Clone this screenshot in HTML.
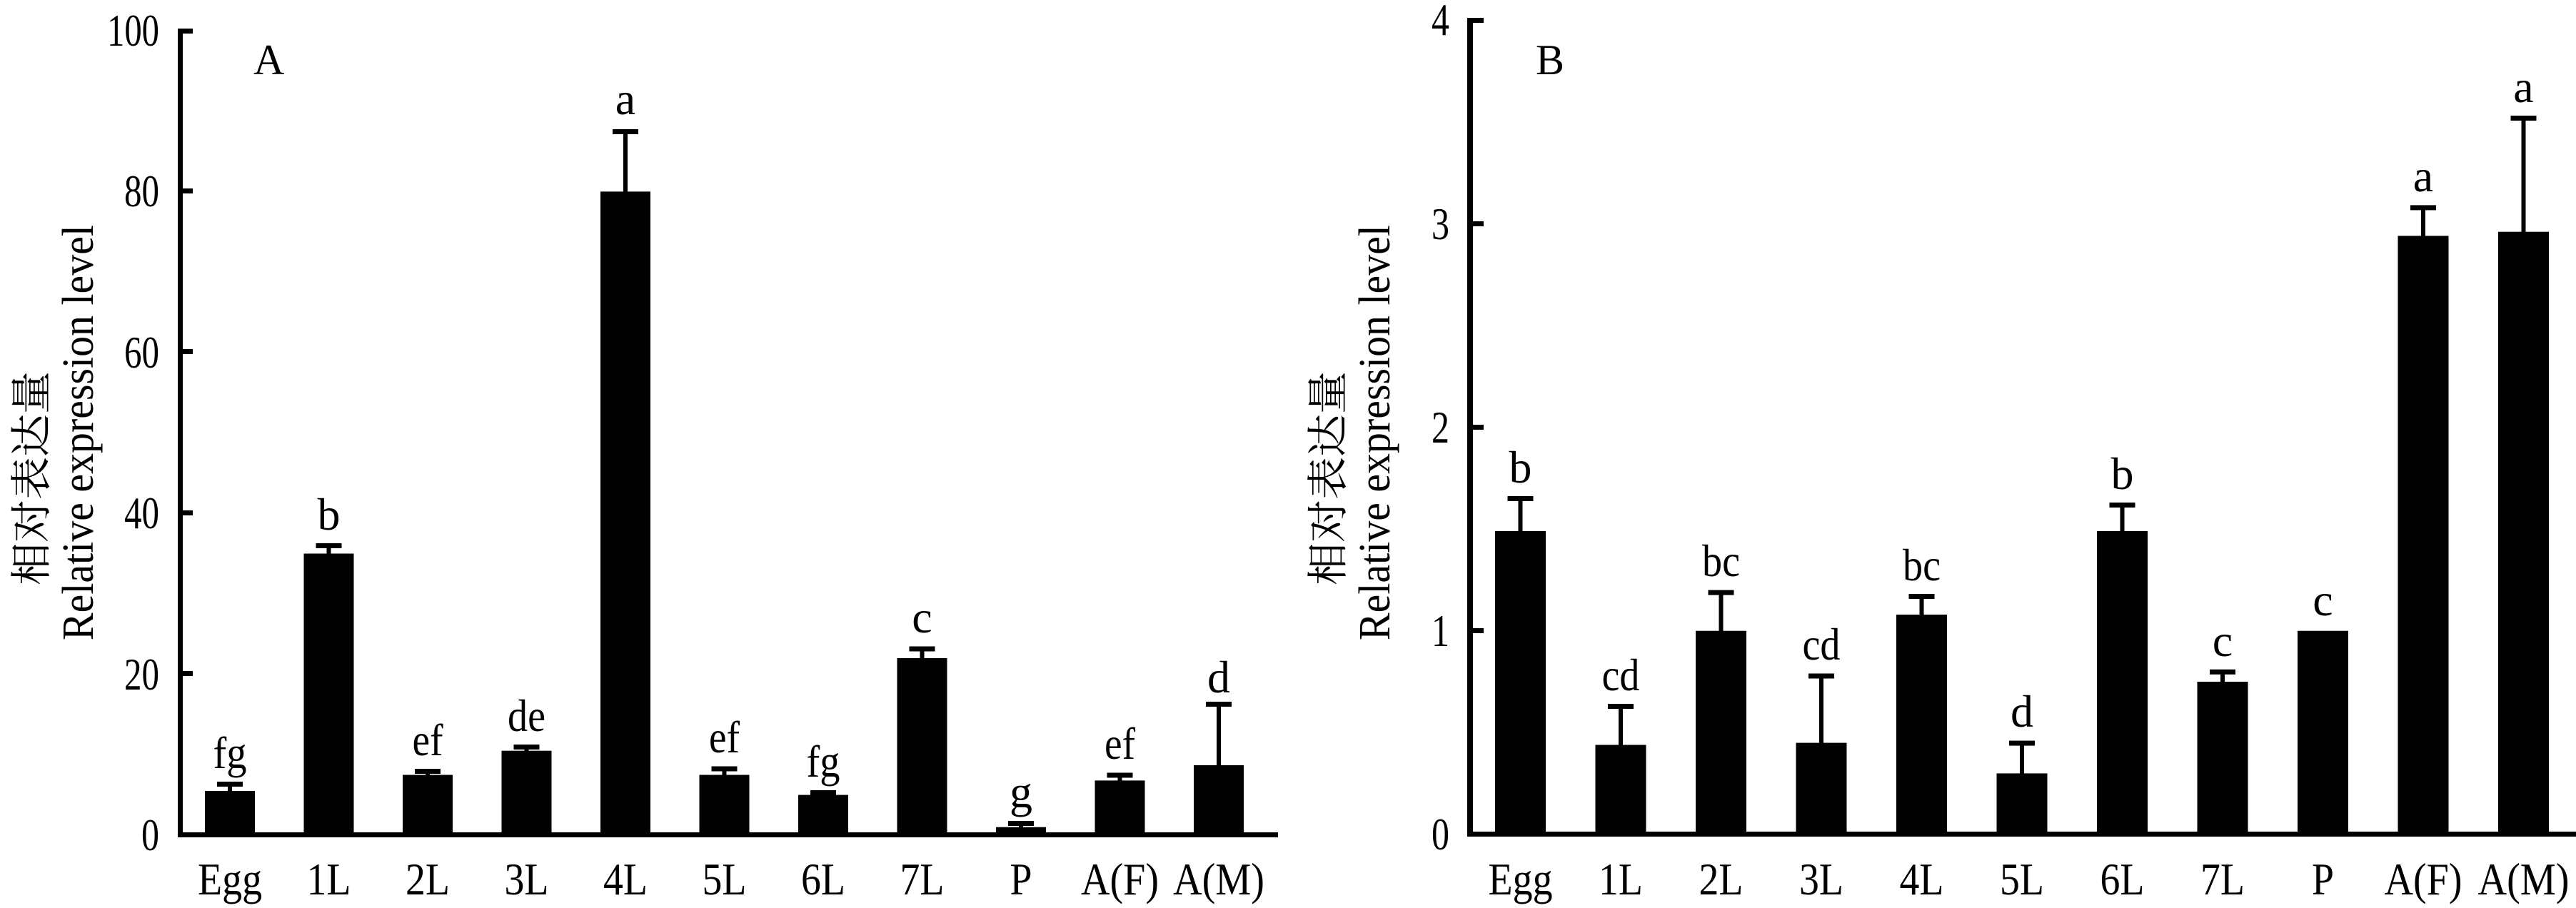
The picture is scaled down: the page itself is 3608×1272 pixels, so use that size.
<!DOCTYPE html>
<html><head><meta charset="utf-8"><style>
html,body{margin:0;padding:0;background:#fff;}
svg{display:block;}
text{font-family:"Liberation Serif","Noto Serif CJK SC",serif;fill:#000;}
</style></head><body>
<svg width="3608" height="1272" viewBox="0 0 3608 1272" xmlns="http://www.w3.org/2000/svg">
<!-- Chart A -->
<g>
<rect x="249" y="40" width="7" height="1133"/>
<rect x="249" y="1166" width="1541" height="7"/>
<g>
<rect x="256" y="40" width="14" height="7"/>
<rect x="256" y="264" width="14" height="7"/>
<rect x="256" y="489" width="14" height="7"/>
<rect x="256" y="715" width="14" height="7"/>
<rect x="256" y="940" width="14" height="7"/>
</g>
<g font-size="64" text-anchor="end">
<text x="223" y="1191" textLength="25" lengthAdjust="spacingAndGlyphs">0</text>
<text x="223" y="966" textLength="49" lengthAdjust="spacingAndGlyphs">20</text>
<text x="223" y="740" textLength="49" lengthAdjust="spacingAndGlyphs">40</text>
<text x="223" y="515" textLength="49" lengthAdjust="spacingAndGlyphs">60</text>
<text x="223" y="289" textLength="49" lengthAdjust="spacingAndGlyphs">80</text>
<text x="223" y="64" textLength="73" lengthAdjust="spacingAndGlyphs">100</text>
</g>
<text x="355" y="104" font-size="60">A</text>
<text transform="translate(64,670) rotate(-90)" font-size="58" text-anchor="middle" textLength="300" lengthAdjust="spacingAndGlyphs" style="font-family:'Noto Serif CJK SC','Noto Sans CJK SC',serif">相对表达量</text>
<text transform="translate(130,606) rotate(-90)" font-size="62" text-anchor="middle" textLength="582" lengthAdjust="spacingAndGlyphs">Relative expression level</text>
<g>
<rect x="287" y="1108" width="70" height="62"/><rect x="319" y="1098" width="6" height="12"/><rect x="304" y="1095" width="36" height="7"/>
<rect x="425.5" y="775.5" width="70" height="395"/><rect x="457.5" y="764" width="6" height="12"/><rect x="442.5" y="761" width="36" height="7"/>
<rect x="564" y="1085.5" width="70" height="85"/><rect x="596" y="1080" width="6" height="8"/><rect x="581" y="1077" width="36" height="7"/>
<rect x="702.5" y="1051.7" width="70" height="119"/><rect x="734.5" y="1046" width="6" height="8"/><rect x="719.5" y="1043" width="36" height="7"/>
<rect x="841" y="268.4" width="70" height="902"/><rect x="873" y="184" width="6" height="86"/><rect x="858" y="181" width="36" height="7"/>
<rect x="979.5" y="1085.5" width="70" height="85"/><rect x="1011.5" y="1076.5" width="6" height="10"/><rect x="996.5" y="1073.5" width="36" height="7"/>
<rect x="1118" y="1113.6" width="70" height="57"/><rect x="1150" y="1110" width="6" height="5"/><rect x="1135" y="1107" width="36" height="7"/>
<rect x="1256.5" y="922" width="70" height="249"/><rect x="1288.5" y="908.5" width="6" height="15"/><rect x="1273.5" y="905.5" width="36" height="7"/>
<rect x="1395" y="1158.7" width="70" height="12"/><rect x="1427" y="1153" width="6" height="7"/><rect x="1412" y="1150" width="36" height="7"/>
<rect x="1533.5" y="1093.4" width="70" height="77"/><rect x="1565.5" y="1085.5" width="6" height="9"/><rect x="1550.5" y="1082.5" width="36" height="7"/>
<rect x="1672" y="1072" width="70" height="99"/><rect x="1704" y="986" width="6" height="88"/><rect x="1689" y="983" width="36" height="7"/>
</g>
<g font-size="64" text-anchor="middle">
<text x="322" y="1076" textLength="47" lengthAdjust="spacingAndGlyphs">fg</text>
<text x="460.5" y="742">b</text>
<text x="599" y="1058" textLength="43" lengthAdjust="spacingAndGlyphs">ef</text>
<text x="737.5" y="1024" textLength="53" lengthAdjust="spacingAndGlyphs">de</text>
<text x="876" y="160">a</text>
<text x="1014.5" y="1054" textLength="43" lengthAdjust="spacingAndGlyphs">ef</text>
<text x="1153" y="1088" textLength="47" lengthAdjust="spacingAndGlyphs">fg</text>
<text x="1291.5" y="886">c</text>
<text x="1430" y="1131">g</text>
<text x="1568.5" y="1063" textLength="43" lengthAdjust="spacingAndGlyphs">ef</text>
<text x="1707" y="970">d</text>
</g>
<g font-size="64" text-anchor="middle">
<text x="322" y="1253" textLength="90" lengthAdjust="spacingAndGlyphs">Egg</text>
<text x="460.5" y="1253" textLength="62" lengthAdjust="spacingAndGlyphs">1L</text>
<text x="599" y="1253" textLength="62" lengthAdjust="spacingAndGlyphs">2L</text>
<text x="737.5" y="1253" textLength="62" lengthAdjust="spacingAndGlyphs">3L</text>
<text x="876" y="1253" textLength="62" lengthAdjust="spacingAndGlyphs">4L</text>
<text x="1014.5" y="1253" textLength="62" lengthAdjust="spacingAndGlyphs">5L</text>
<text x="1153" y="1253" textLength="62" lengthAdjust="spacingAndGlyphs">6L</text>
<text x="1291.5" y="1253" textLength="62" lengthAdjust="spacingAndGlyphs">7L</text>
<text x="1430" y="1253" textLength="31" lengthAdjust="spacingAndGlyphs">P</text>
<text x="1568.5" y="1253" textLength="109" lengthAdjust="spacingAndGlyphs">A(F)</text>
<text x="1707" y="1253" textLength="128" lengthAdjust="spacingAndGlyphs">A(M)</text>
</g>
</g>
<!-- Chart B -->
<g>
<rect x="2055" y="25" width="8" height="1147"/>
<rect x="2055" y="1165" width="1553" height="7"/>
<g>
<rect x="2063" y="25" width="15" height="7"/>
<rect x="2063" y="310" width="15" height="7"/>
<rect x="2063" y="595" width="15" height="7"/>
<rect x="2063" y="880" width="15" height="7"/>
</g>
<g font-size="64" text-anchor="end">
<text x="2030" y="1190" textLength="25" lengthAdjust="spacingAndGlyphs">0</text>
<text x="2030" y="905" textLength="25" lengthAdjust="spacingAndGlyphs">1</text>
<text x="2030" y="620" textLength="25" lengthAdjust="spacingAndGlyphs">2</text>
<text x="2030" y="335" textLength="25" lengthAdjust="spacingAndGlyphs">3</text>
<text x="2030" y="49" textLength="25" lengthAdjust="spacingAndGlyphs">4</text>
</g>
<text x="2151" y="104" font-size="60">B</text>
<text transform="translate(1880,670) rotate(-90)" font-size="58" text-anchor="middle" textLength="300" lengthAdjust="spacingAndGlyphs" style="font-family:'Noto Serif CJK SC','Noto Sans CJK SC',serif">相对表达量</text>
<text transform="translate(1946,606) rotate(-90)" font-size="62" text-anchor="middle" textLength="582" lengthAdjust="spacingAndGlyphs">Relative expression level</text>
<g>
<rect x="2094" y="744" width="71" height="426"/><rect x="2126.5" y="698" width="6" height="48"/><rect x="2111.5" y="695" width="36" height="7"/>
<rect x="2234.5" y="1043.5" width="71" height="126"/><rect x="2267" y="989" width="6" height="56"/><rect x="2252" y="986" width="36" height="7"/>
<rect x="2375" y="883.75" width="71" height="286"/><rect x="2407.5" y="829.6" width="6" height="56"/><rect x="2392.5" y="826.6" width="36" height="7"/>
<rect x="2515.5" y="1040.6" width="71" height="129"/><rect x="2548" y="946.5" width="6" height="96"/><rect x="2533" y="943.5" width="36" height="7"/>
<rect x="2656" y="861" width="71" height="309"/><rect x="2688.5" y="835" width="6" height="28"/><rect x="2673.5" y="832" width="36" height="7"/>
<rect x="2796.5" y="1083.4" width="71" height="86"/><rect x="2829" y="1040.6" width="6" height="45"/><rect x="2814" y="1037.6" width="36" height="7"/>
<rect x="2937" y="744" width="71" height="426"/><rect x="2969.5" y="707" width="6" height="39"/><rect x="2954.5" y="704" width="36" height="7"/>
<rect x="3077.5" y="955" width="71" height="215"/><rect x="3110" y="940.8" width="6" height="16"/><rect x="3095" y="937.8" width="36" height="7"/>
<rect x="3218" y="883.75" width="71" height="286"/>
<rect x="3358.5" y="330.4" width="71" height="840"/><rect x="3391" y="290.4" width="6" height="42"/><rect x="3376" y="287.4" width="36" height="7"/>
<rect x="3499" y="324.7" width="71" height="845"/><rect x="3531.5" y="165" width="6" height="162"/><rect x="3516.5" y="162" width="36" height="7"/>
</g>
<g font-size="64" text-anchor="middle">
<text x="2129.5" y="676">b</text>
<text x="2270" y="967" textLength="53" lengthAdjust="spacingAndGlyphs">cd</text>
<text x="2410.5" y="807" textLength="53" lengthAdjust="spacingAndGlyphs">bc</text>
<text x="2551" y="924" textLength="53" lengthAdjust="spacingAndGlyphs">cd</text>
<text x="2691.5" y="813" textLength="53" lengthAdjust="spacingAndGlyphs">bc</text>
<text x="2832" y="1018">d</text>
<text x="2972.5" y="685">b</text>
<text x="3113" y="919">c</text>
<text x="3253.5" y="862">c</text>
<text x="3394" y="268">a</text>
<text x="3534.5" y="143">a</text>
</g>
<g font-size="64" text-anchor="middle">
<text x="2129.5" y="1253" textLength="90" lengthAdjust="spacingAndGlyphs">Egg</text>
<text x="2270" y="1253" textLength="62" lengthAdjust="spacingAndGlyphs">1L</text>
<text x="2410.5" y="1253" textLength="62" lengthAdjust="spacingAndGlyphs">2L</text>
<text x="2551" y="1253" textLength="62" lengthAdjust="spacingAndGlyphs">3L</text>
<text x="2691.5" y="1253" textLength="62" lengthAdjust="spacingAndGlyphs">4L</text>
<text x="2832" y="1253" textLength="62" lengthAdjust="spacingAndGlyphs">5L</text>
<text x="2972.5" y="1253" textLength="62" lengthAdjust="spacingAndGlyphs">6L</text>
<text x="3113" y="1253" textLength="62" lengthAdjust="spacingAndGlyphs">7L</text>
<text x="3253.5" y="1253" textLength="31" lengthAdjust="spacingAndGlyphs">P</text>
<text x="3394" y="1253" textLength="109" lengthAdjust="spacingAndGlyphs">A(F)</text>
<text x="3534.5" y="1253" textLength="128" lengthAdjust="spacingAndGlyphs">A(M)</text>
</g>
</g>
</svg>
</body></html>
